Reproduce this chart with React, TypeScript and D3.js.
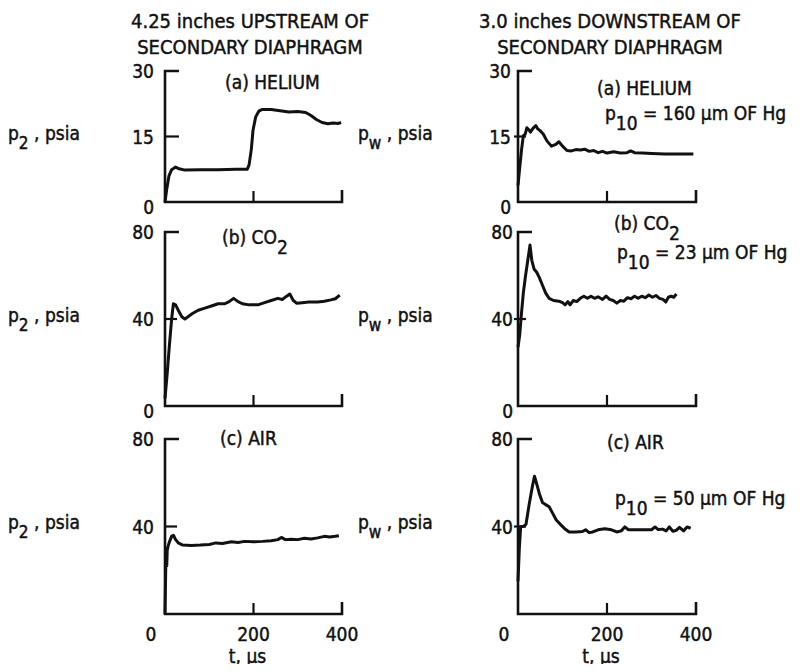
import * as React from "react";
import * as d3 from "d3";

// tick values
const timeTicks = [0, 200, 400];
const heliumTicks = [0, 15, 30];
const co2Ticks = [0, 40, 80];
const airTicks = [0, 40, 80];

// [t (µs), p (psia)]
const heliumUpstream = [
  [0, 0], [4, 3], [9, 6], [15, 7.4], [24, 8.0], [32, 7.6], [45, 7.3], [80, 7.4],
  [120, 7.4], [160, 7.5], [186, 7.5], [190, 8.5], [195, 12], [199, 16.5], [205, 19.5],
  [212, 20.8], [220, 21.2], [240, 21.2], [260, 20.9], [280, 20.6], [300, 20.7],
  [318, 20.5], [330, 19.8], [342, 18.9], [355, 18.2], [368, 17.9], [380, 18.1],
  [392, 18.0], [398, 18.2],
];
const heliumDownstream = [
  [0, 3.8], [4, 8], [8, 12], [12, 15.2], [16, 15.5], [20, 17], [24, 16.6], [28, 16],
  [31, 16.5], [35, 17], [40, 17.5], [44, 16.8], [50, 16.3], [57, 15.5], [65, 14],
  [75, 12.8], [85, 13.2], [92, 13.8], [100, 12.8], [110, 11.8], [120, 11.7], [130, 12],
  [140, 11.9], [150, 12.1], [160, 11.6], [170, 11.8], [180, 11.3], [190, 11.6],
  [200, 11.2], [215, 11.5], [230, 11.2], [245, 11.3], [253, 11.7], [262, 11.3],
  [280, 11.2], [300, 11.1], [330, 11], [360, 11], [394, 11],
];
const co2Upstream = [
  [0, 3.5], [5, 15], [10, 28], [15, 40], [19, 47], [24, 46.5], [30, 44], [38, 41],
  [45, 40], [52, 41], [62, 42.5], [75, 44], [90, 45], [105, 46], [120, 47], [135, 47],
  [145, 48], [155, 49.5], [165, 48], [175, 47], [190, 46.5], [210, 46.5], [225, 47.5],
  [240, 48.5], [255, 49.5], [265, 49], [275, 50.5], [282, 51.5], [290, 48.5],
  [298, 47.2], [310, 47.5], [325, 47.8], [345, 47.8], [360, 48.2], [375, 48.8],
  [385, 49.3], [395, 51],
];
const co2Downstream = [
  [0, 27], [4, 33], [8, 43], [12, 52], [17, 60], [22, 67], [27, 74], [31, 67], [36, 63],
  [42, 61.5], [48, 59], [55, 55.5], [62, 52], [70, 49.5], [80, 48.5], [92, 48.2],
  [100, 47.5], [106, 46.5], [112, 48], [117, 46.5], [124, 48.5], [132, 48], [140, 49.5],
  [148, 50.5], [156, 49.5], [164, 50.5], [172, 49.5], [180, 50.2], [190, 49],
  [198, 50.5], [206, 49], [214, 48.5], [222, 47.3], [230, 48.5], [238, 48.2],
  [246, 49.8], [254, 49.3], [262, 50.5], [270, 49.5], [278, 50.5], [286, 49.8],
  [294, 51], [302, 50], [310, 50.8], [318, 49.5], [326, 49], [332, 47.8], [338, 50],
  [344, 50.5], [350, 50], [356, 51.5],
];
const airUpstream = [
  [0, 0], [2, 25], [3, 30], [4, 22], [5, 29], [7, 31], [10, 33], [15, 35.5], [19, 36],
  [24, 34], [30, 32.5], [40, 31.5], [60, 31.3], [80, 31.5], [100, 31.8], [115, 32.5],
  [130, 32.2], [150, 33], [165, 32.7], [180, 33.2], [200, 33], [220, 33.2], [240, 33.5],
  [255, 34], [263, 35], [272, 34], [285, 34.2], [300, 34], [315, 34.6], [330, 34.3],
  [345, 34.8], [360, 35.5], [372, 35.2], [385, 35.5], [393, 35.8],
];
const airDownstream = [
  [0, 15], [3, 30], [6, 40], [12, 40], [18, 41], [25, 50], [32, 58], [37, 63], [40, 61],
  [44, 58], [48, 55], [55, 51], [62, 50], [70, 49], [78, 46], [86, 43], [95, 41],
  [105, 39], [115, 37.5], [130, 37.5], [145, 37.7], [152, 38.5], [160, 37.2],
  [168, 37.5], [180, 38.5], [195, 39], [210, 38.5], [222, 37.5], [232, 38], [240, 39.8],
  [248, 38.5], [262, 38.5], [280, 38.5], [300, 38.5], [308, 39.8], [315, 38.6],
  [325, 38.8], [333, 38], [340, 39.8], [348, 37.8], [356, 38.3], [363, 39.6], [372, 38],
  [380, 39.8], [388, 39.2],
];

const FONT = "'DejaVu Sans Condensed', 'Liberation Sans Narrow', 'DejaVu Sans', sans-serif";
const INK = "#111";

// one small time-history frame: L-shaped axis with short end ticks
const Panel = ({ x0, x1, y0, y1, ticks, data, tickGap, midTick, showZero = true }) => {
  const x = d3.scaleLinear().domain([0, 400]).range([x0, x1]);
  const y = d3.scaleLinear().domain([0, ticks[2]]).range([y1, y0]);
  const line = d3.line().x((d) => x(d[0])).y((d) => y(d[1]));
  const labels = showZero ? ticks : ticks.slice(1);
  return (
    <g>
      <path
        d={`M${x0 + 14},${y(ticks[2])}H${x0}V${y(0)}H${x(400)}V${y(0) - 12}`}
        fill="none"
        stroke={INK}
        strokeWidth={2.6}
      />
      <line x1={x0 + midTick[0]} x2={x0 + midTick[1]} y1={y(ticks[1])} y2={y(ticks[1])} stroke={INK} strokeWidth={2.2} />
      <line x1={x(200)} x2={x(200)} y1={y(0)} y2={y(0) - 11} stroke={INK} strokeWidth={2.2} />
      {labels.map((t) => (
        <text key={t} x={x0 - tickGap} y={y(t) + (t === 0 ? 12 : 7)} textAnchor="end">
          {t}
        </text>
      ))}
      <path d={line(data)} fill="none" stroke={INK} strokeWidth={3} strokeLinejoin="round" />
    </g>
  );
};

const TimeAxisLabels = ({ x0, x1 }) => {
  const x = d3.scaleLinear().domain([0, 400]).range([x0, x1]);
  return (
    <g>
      {timeTicks.map((t) => (
        <text key={t} x={t === 0 ? x(t) - 14 : x(t)} y={641} textAnchor="middle">
          {t}
        </text>
      ))}
      <text x={x(200) - 6} y={663} textAnchor="middle">t, µs</text>
    </g>
  );
};

const YLabel = ({ x, y, sub }) => (
  <text x={x} y={y}>
    p<tspan fontSize={17} dy={9}>{sub}</tspan>
    <tspan dy={-9}> , psia</tspan>
  </text>
);

const P10 = ({ x, y, value }) => (
  <text x={x} y={y}>
    p<tspan dy={10}>10</tspan>
    <tspan dy={-10}> = {value} µm OF Hg</tspan>
  </text>
);

export default function App() {
  const L = [165, 342];
  const R = [518, 696];
  const rows = [
    [71, 202],
    [232, 406],
    [439, 614],
  ];
  return (
    <svg
      width={807}
      height={672}
      style={{ display: "block", margin: "-8px" }}
      fontFamily={FONT}
      fontSize={19}
      fill={INK}
      stroke={INK}
      strokeWidth={0.45}
    >
      <rect width={807} height={672} fill="#fff" stroke="none" />
      <g fontSize={20} textAnchor="middle">
        <text x={250} y={28}>4.25 inches UPSTREAM OF</text>
        <text x={250} y={54}>SECONDARY DIAPHRAGM</text>
        <text x={610} y={28}>3.0 inches DOWNSTREAM OF</text>
        <text x={610} y={54}>SECONDARY DIAPHRAGM</text>
      </g>

      <Panel x0={L[0]} x1={L[1]} y0={rows[0][0]} y1={rows[0][1]} ticks={heliumTicks} data={heliumUpstream} tickGap={11} midTick={[0, 14]} />
      <Panel x0={L[0]} x1={L[1]} y0={rows[1][0]} y1={rows[1][1]} ticks={co2Ticks} data={co2Upstream} tickGap={11} midTick={[0, 12]} />
      <Panel x0={L[0]} x1={L[1]} y0={rows[2][0]} y1={rows[2][1]} ticks={airTicks} data={airUpstream} tickGap={11} midTick={[0, 12]} showZero={false} />
      <Panel x0={R[0]} x1={R[1]} y0={rows[0][0]} y1={rows[0][1]} ticks={heliumTicks} data={heliumDownstream} tickGap={7} midTick={[-4, 8]} />
      <Panel x0={R[0]} x1={R[1]} y0={rows[1][0]} y1={rows[1][1]} ticks={co2Ticks} data={co2Downstream} tickGap={5} midTick={[-4, 8]} />
      <Panel x0={R[0]} x1={R[1]} y0={rows[2][0]} y1={rows[2][1]} ticks={airTicks} data={airDownstream} tickGap={5} midTick={[-4, 8]} showZero={false} />

      <TimeAxisLabels x0={L[0]} x1={L[1]} />
      <TimeAxisLabels x0={R[0]} x1={R[1]} />

      <text x={225} y={89}>(a) HELIUM</text>
      <text x={222} y={244}>(b) CO<tspan dy={10}>2</tspan></text>
      <text x={220} y={445}>(c) AIR</text>
      <text x={597} y={95}>(a) HELIUM</text>
      <text x={614} y={230}>(b) CO<tspan dy={10}>2</tspan></text>
      <text x={607} y={449}>(c) AIR</text>
      <P10 x={605} y={120} value={160} />
      <P10 x={617} y={259} value={23} />
      <P10 x={615} y={505} value={50} />

      <YLabel x={8} y={140} sub="2" />
      <YLabel x={8} y={322} sub="2" />
      <YLabel x={8} y={529} sub="2" />
      <YLabel x={358} y={140} sub="w" />
      <YLabel x={358} y={322} sub="w" />
      <YLabel x={358} y={529} sub="w" />
    </svg>
  );
}
